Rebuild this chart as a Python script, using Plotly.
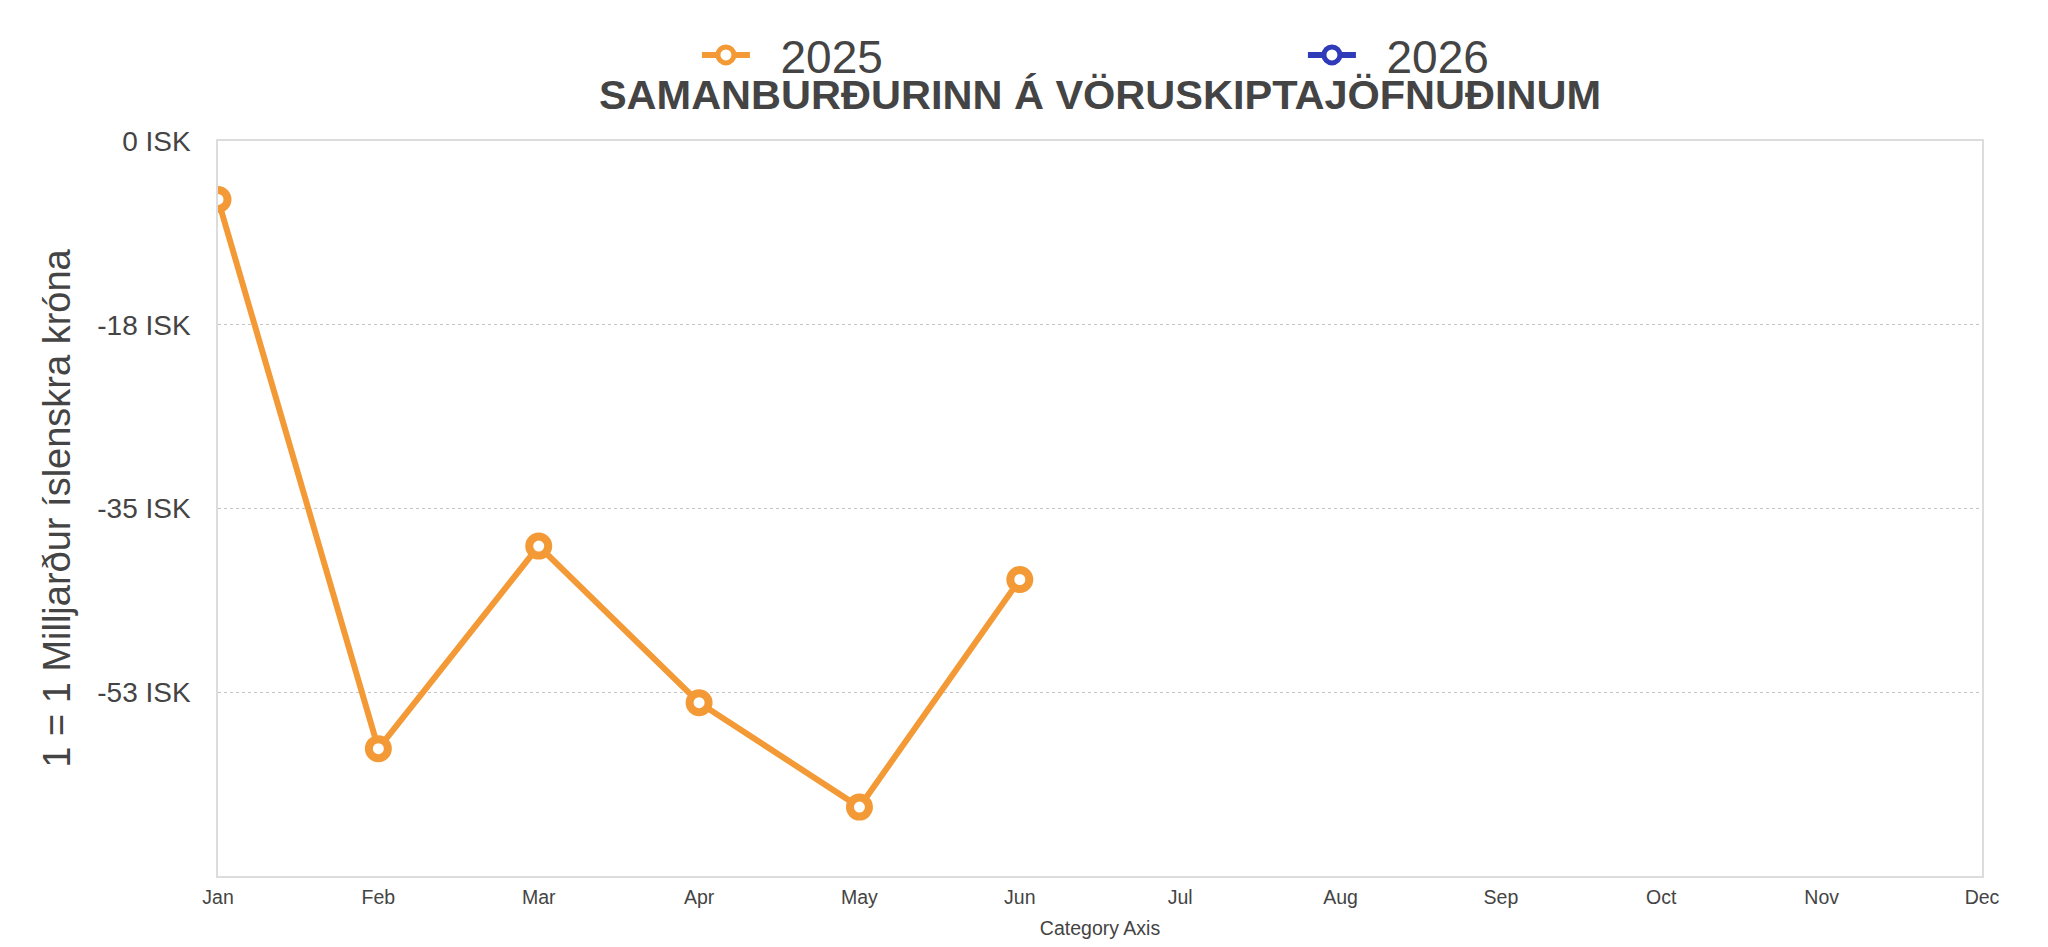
import plotly.graph_objects as go

months = ["Jan", "Feb", "Mar", "Apr", "May", "Jun", "Jul", "Aug", "Sep", "Oct", "Nov", "Dec"]
values_2025 = [-5.6, -58.2, -38.8, -53.8, -63.8, -42.0]
values_2026 = []
y_ticks = [0, -17.6, -35.2, -52.8, -70.4]
y_tick_labels = ["0 ISK", "-18 ISK", "-35 ISK", "-53 ISK", ""]

ORANGE = "#F39A37"
BLUE = "#2F3BB8"
TEXT = "#444444"
FONT = "Liberation Sans, Arial, Helvetica, sans-serif"
NB = "\u00a0\u00a0"

fig = go.Figure()
fig.add_trace(go.Scatter(
    x=months[:len(values_2025)], y=values_2025, name=NB + "2025", mode="lines+markers",
    line=dict(color=ORANGE, width=6),
    marker=dict(symbol="circle", size=19, color="white", line=dict(color=ORANGE, width=8)),
))
fig.add_trace(go.Scatter(
    x=months[:len(values_2026)] if values_2026 else [None], y=values_2026 if values_2026 else [None],
    name=NB + "2026", mode="lines+markers",
    line=dict(color=BLUE, width=6),
    marker=dict(symbol="circle", size=19, color="white", line=dict(color=BLUE, width=8)),
))

fig.update_layout(
    width=2032, height=931,
    paper_bgcolor="white", plot_bgcolor="white",
    margin=dict(l=210, r=58, t=133, b=63, autoexpand=False),
    font=dict(family=FONT, color=TEXT),
    title=dict(text="<b>SAMANBURÐURINN Á VÖRUSKIPTAJÖFNUÐINUM</b>", x=0.5, xref="paper", xanchor="center",
               y=1 - 86 / 931, yanchor="middle", yref="container", font=dict(size=41.5, color=TEXT)),
    showlegend=True,
    legend=dict(orientation="h", x=0.2715, xanchor="left", y=1 - 47 / 931, yref="container", yanchor="middle",
                font=dict(size=46, color=TEXT), itemwidth=48, entrywidth=543, entrywidthmode="pixels",
                bgcolor="rgba(0,0,0,0)"),
    xaxis=dict(
        type="category", categoryorder="array", categoryarray=months,
        tickvals=months, ticktext=months, range=[0, 11],
        showgrid=False, showline=True, linecolor="#dcdcdc", linewidth=1.5, mirror=True,
        zeroline=False, ticks="", ticklabelstandoff=3, tickfont=dict(size=19.5, color=TEXT),
        title=dict(text="Category Axis", font=dict(size=19.5, color=TEXT)),
    ),
    yaxis=dict(
        range=[-70.4, 0], tickvals=y_ticks, ticktext=y_tick_labels,
        showgrid=True, gridcolor="#c4c4c4", griddash="dot", gridwidth=1,
        showline=True, linecolor="#dcdcdc", linewidth=1.5, mirror=True, zeroline=False,
        ticks="", ticklabelstandoff=20, tickfont=dict(size=28, color=TEXT),
        title=dict(text="1 = 1 Milljarður íslenskra króna", font=dict(size=38, color=TEXT)),
    ),
)

fig.write_html("out.html")
